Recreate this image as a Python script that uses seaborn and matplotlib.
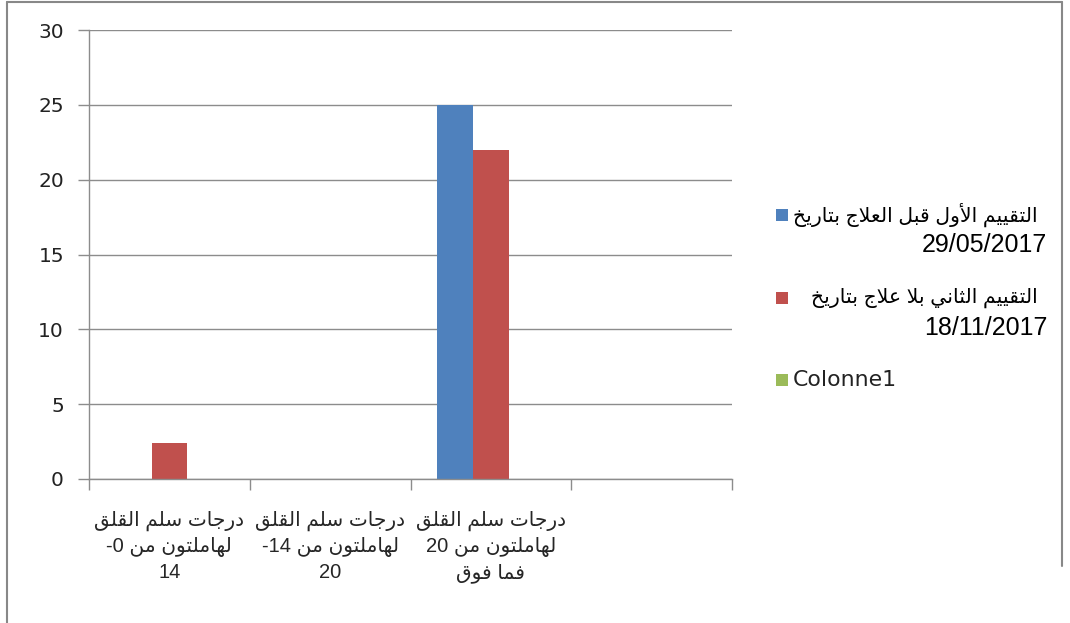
import re
import numpy as np
import pandas as pd
import matplotlib
matplotlib.use("Agg")
import matplotlib.pyplot as plt
from matplotlib.patches import Rectangle
from matplotlib.lines import Line2D
import seaborn as sns

# ---------------- data ----------------
categories = [
    "درجات سلم القلق\nلهاملتون من 0-\n14",
    "درجات سلم القلق\nلهاملتون من 14-\n20",
    "درجات سلم القلق\nلهاملتون من 20\nفما فوق",
    "",
]
series_names = [
    "التقييم الأول قبل العلاج بتاريخ\n29/05/2017",
    "التقييم الثاني بلا علاج بتاريخ\n18/11/2017",
    "Colonne1",
]
series1 = [0, 0, 25, 0]
series2 = [2.4, 0, 22, 0]
series3 = [0, 0, 0, 0]
colors = ["#4F81BD", "#C0504D", "#9BBB59"]
y_ticks = [0, 5, 10, 15, 20, 25, 30]

# ---------------- Arabic shaping (matplotlib has no RTL layout) ----------------
FORMS = {  # isolated, final, initial, medial
    'ا': (0xFE8D, 0xFE8E, None, None),
    'أ': (0xFE83, 0xFE84, None, None),
    'ب': (0xFE8F, 0xFE90, 0xFE91, 0xFE92),
    'ت': (0xFE95, 0xFE96, 0xFE97, 0xFE98),
    'ث': (0xFE99, 0xFE9A, 0xFE9B, 0xFE9C),
    'ج': (0xFE9D, 0xFE9E, 0xFE9F, 0xFEA0),
    'خ': (0xFEA5, 0xFEA6, 0xFEA7, 0xFEA8),
    'د': (0xFEA9, 0xFEAA, None, None),
    'ر': (0xFEAD, 0xFEAE, None, None),
    'س': (0xFEB1, 0xFEB2, 0xFEB3, 0xFEB4),
    'ع': (0xFEC9, 0xFECA, 0xFECB, 0xFECC),
    'ف': (0xFED1, 0xFED2, 0xFED3, 0xFED4),
    'ق': (0xFED5, 0xFED6, 0xFED7, 0xFED8),
    'ل': (0xFEDD, 0xFEDE, 0xFEDF, 0xFEE0),
    'م': (0xFEE1, 0xFEE2, 0xFEE3, 0xFEE4),
    'ن': (0xFEE5, 0xFEE6, 0xFEE7, 0xFEE8),
    'ه': (0xFEE9, 0xFEEA, 0xFEEB, 0xFEEC),
    'و': (0xFEED, 0xFEEE, None, None),
    'ي': (0xFEF1, 0xFEF2, 0xFEF3, 0xFEF4),
}
LAM_ALEF = {'ا': (0xFEFB, 0xFEFC), 'أ': (0xFEF7, 0xFEF8)}


def shape(s):
    tokens = []
    i = 0
    while i < len(s):
        c = s[i]
        if c == 'ل' and i + 1 < len(s) and s[i + 1] in LAM_ALEF:
            tokens.append(('LA', s[i + 1]))
            i += 2
        else:
            tokens.append(c)
            i += 1

    def joins_next(t):
        if isinstance(t, tuple):
            return False
        f = FORMS.get(t)
        return f is not None and f[2] is not None

    def joins_prev(t):
        return isinstance(t, tuple) or t in FORMS

    out = []
    for k, t in enumerate(tokens):
        prev = tokens[k - 1] if k > 0 else None
        nxt = tokens[k + 1] if k + 1 < len(tokens) else None
        p = prev is not None and joins_next(prev) and joins_prev(t)
        n = nxt is not None and joins_next(t) and joins_prev(nxt)
        if isinstance(t, tuple):
            iso, fin = LAM_ALEF[t[1]]
            out.append(chr(fin if p else iso))
        elif t in FORMS:
            iso, fin, ini, med = FORMS[t]
            if p and n:
                out.append(chr(med))
            elif p:
                out.append(chr(fin))
            elif n:
                out.append(chr(ini))
            else:
                out.append(chr(iso))
        else:
            out.append(t)
    return ''.join(out)


def visual_line(line):
    if not re.search('[\u0600-\u06FF]', line):
        return line
    parts = re.findall(r'[0-9A-Za-z/.]+|.', shape(line))
    return ''.join(reversed(parts))


def visual(text):
    return "\n".join(visual_line(l) for l in text.split("\n"))


# ---------------- figure ----------------
sns.set_theme(style="white")
plt.rcParams['font.family'] = ['Liberation Sans', 'DejaVu Sans']

fig = plt.figure(figsize=(10.70, 6.23), dpi=100)
W, H = 1070, 623
ax = fig.add_axes([89 / W, 1 - 479 / H, (732 - 89) / W, (479 - 30) / H])

df = pd.DataFrame({
    "cat": categories * 3,
    "series": sum([[s] * len(categories) for s in series_names], []),
    "value": series1 + series2 + series3,
})

sns.barplot(data=df, x="cat", y="value", hue="series", order=categories,
            hue_order=series_names, palette=colors, width=2 / 3, saturation=1,
            linewidth=0, errorbar=None, legend=False, ax=ax)

grid_c = "#8C8C8C"
ax.set_xlim(-0.5, len(categories) - 0.5)
ax.set_ylim(0, 30)
ax.set_yticks(y_ticks)
ax.set_yticklabels([str(v) for v in y_ticks], family=['DejaVu Sans'],
                   fontsize=14.5, color="#222222")
ax.yaxis.grid(True, color=grid_c, linewidth=1)
ax.set_axisbelow(True)
for side in ["top", "right"]:
    ax.spines[side].set_visible(False)
for side in ["left", "bottom"]:
    ax.spines[side].set_color(grid_c)
    ax.spines[side].set_linewidth(1)
ax.tick_params(axis="y", left=True, length=8, width=1, color=grid_c, pad=10)

ax.set_xticks(range(len(categories)))
ax.set_xticklabels([visual(c) for c in categories], fontsize=14.5,
                   linespacing=1.4, multialignment="center")
ax.set_xticks(np.arange(-0.5, len(categories)), minor=True)
ax.tick_params(axis="x", which="major", length=0, pad=23)
ax.tick_params(axis="x", which="minor", bottom=True, length=8, width=1,
               color=grid_c)
ax.set_xlabel("")
ax.set_ylabel("")

# ---------------- legend (manual, right side) ----------------
leg_rows = [(215, 244), (298, 327), (380, None)]
for name, col, (y1, y2) in zip(series_names, colors, leg_rows):
    fig.patches.append(Rectangle((776 / W, 1 - (y1 + 6) / H), 12 / W, 12 / H,
                                 transform=fig.transFigure, facecolor=col,
                                 edgecolor="none"))
    lines = name.split("\n")
    if len(lines) == 1:
        fig.text(793 / W, 1 - y1 / H, lines[0], ha="left", va="center",
                 fontsize=15.8, family=['DejaVu Sans'], color="#222222")
    else:
        fig.text(1038 / W, 1 - y1 / H, visual(lines[0]), ha="right",
                 va="center", fontsize=14.7, color="black")
        fig.text(1047 / W, 1 - (y2 + 1) / H, visual(lines[1]), ha="right",
                 va="center", fontsize=18, color="black")

# ---------------- outer frame ----------------
frame_c = "#888888"
fig.add_artist(Line2D([7 / W, 7 / W], [0, 1 - 2 / H], transform=fig.transFigure,
                      color=frame_c, linewidth=1.5))
fig.add_artist(Line2D([7 / W, 1062 / W], [1 - 2 / H, 1 - 2 / H],
                      transform=fig.transFigure, color=frame_c, linewidth=1.5))
fig.add_artist(Line2D([1062 / W, 1062 / W], [1 - 2 / H, 1 - 566 / H],
                      transform=fig.transFigure, color=frame_c, linewidth=1.5))

fig.savefig("out.png", dpi=100, facecolor="white")
